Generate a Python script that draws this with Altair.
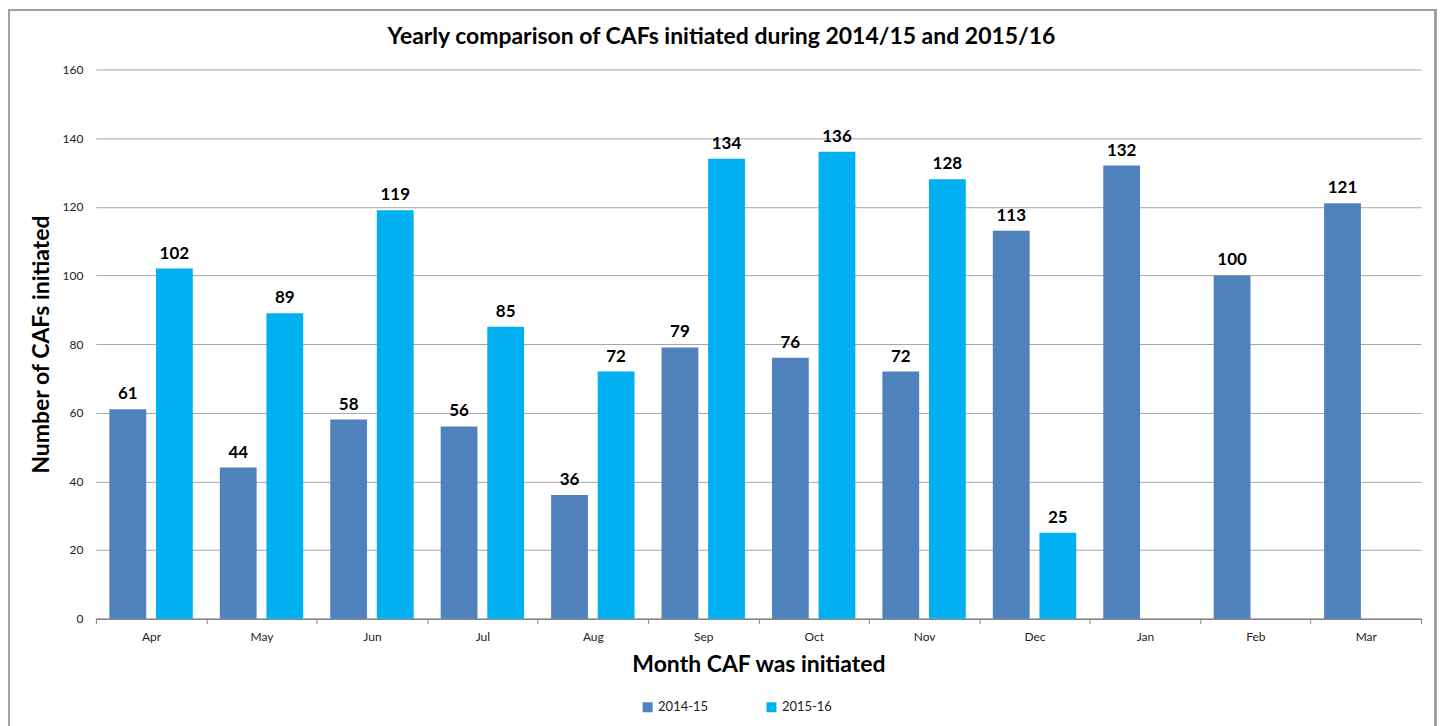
import altair as alt
import pandas as pd

months = ["Apr", "May", "Jun", "Jul", "Aug", "Sep", "Oct", "Nov", "Dec", "Jan", "Feb", "Mar"]
series = ["2014-15", "2015-16"]
values_2014_15 = [61, 44, 58, 56, 36, 79, 76, 72, 113, 132, 100, 121]
values_2015_16 = [102, 89, 119, 85, 72, 134, 136, 128, 25, None, None, None]
colors = ["#4F81BD", "#00B0F0"]

rows = []
for m, v in zip(months, values_2014_15):
    rows.append({"Month": m, "Year": series[0], "Count": v})
for m, v in zip(months, values_2015_16):
    if v is not None:
        rows.append({"Month": m, "Year": series[1], "Count": v})
df = pd.DataFrame(rows)

FONT = "Lato"
W, H = 1327, 550

x_enc = alt.X("Month:N", sort=months,
              scale=alt.Scale(paddingInner=0, paddingOuter=0),
              axis=alt.Axis(title="Month CAF was initiated", labelAngle=0, labelFontSize=12,
                            labelColor="#222222", labelPadding=8, tickBand="extent",
                            ticks=True, tickSize=5, tickColor="#868686",
                            domainColor="#868686", domainWidth=1.5,
                            titleFontSize=23, titleFontWeight="bold", titleColor="#000000",
                            titlePadding=11, grid=False))
xo_enc = alt.XOffset("Year:N", sort=series,
                     scale=alt.Scale(domain=series, paddingInner=0.21, paddingOuter=0.29))
y_enc = alt.Y("Count:Q", scale=alt.Scale(domain=[0, 160]),
              axis=alt.Axis(title="Number of CAFs initiated", values=list(range(0, 161, 20)),
                            labelFontSize=12, labelColor="#222222", labelPadding=13,
                            ticks=False, domain=False, gridColor="#A6A6A6", gridWidth=1,
                            titleFontSize=23, titleFontWeight="bold", titleColor="#000000",
                            titlePadding=9))

bars = alt.Chart(df).mark_bar().encode(
    x=x_enc, xOffset=xo_enc, y=y_enc,
    color=alt.Color("Year:N", sort=series,
                    scale=alt.Scale(domain=series, range=colors),
                    legend=alt.Legend(title=None, orient="none", direction="horizontal",
                                      legendX=546, legendY=632, symbolType="square",
                                      symbolSize=100, symbolStrokeWidth=0, labelFontSize=13,
                                      labelColor="#222222", columnPadding=56, labelOffset=4)),
)

labels = alt.Chart(df).mark_text(baseline="bottom", dy=-6, fontSize=17, fontWeight="bold",
                                 color="#000000").encode(
    x=alt.X("Month:N", sort=months), xOffset=alt.XOffset("Year:N", sort=series),
    y="Count:Q", text="Count:Q",
)

border = alt.Chart(df).mark_rect(fill=None, stroke="#A0A0A0", strokeWidth=2, clip=False).encode(
    x=alt.value(-87.5), x2=alt.value(1341.5), y=alt.value(-59.5), y2=alt.value(700),
)

chart = alt.layer(border, bars, labels).properties(
    width=W, height=H,
    title=alt.TitleParams("Yearly comparison of CAFs initiated during 2014/15 and 2015/16",
                          fontSize=23, fontWeight="bold", color="#000000", font=FONT,
                          anchor="middle", dx=-37, offset=-40),
    autosize=alt.AutoSizeParams(type="none"),
    padding={"left": 88, "top": 61, "right": 16, "bottom": 110},
).configure(font=FONT).configure_view(stroke=None).configure_axis(
    labelFont=FONT, titleFont=FONT).configure_legend(labelFont=FONT)

chart.save("out.html", embed_options={"renderer": "svg", "actions": False})
